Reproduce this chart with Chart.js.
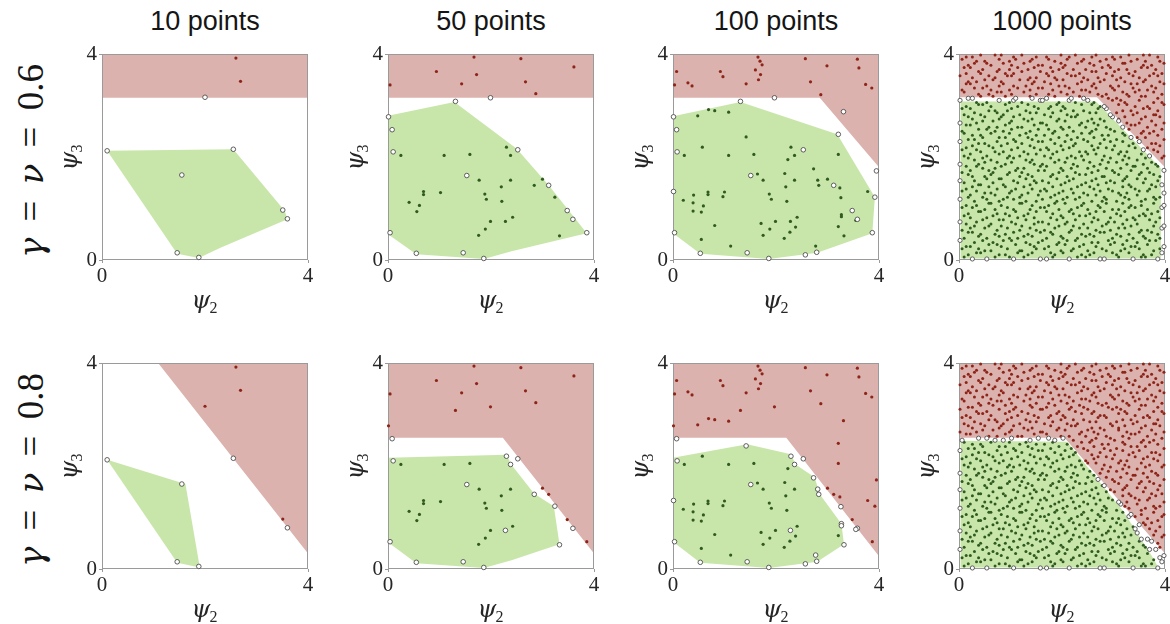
<!DOCTYPE html>
<html>
<head>
<meta charset="utf-8">
<script src="https://cdn.jsdelivr.net/npm/chart.js@4.4.1/dist/chart.umd.min.js"></script>
<style>
  html, body { margin: 0; padding: 0; background: #fff; }
  #fig { position: relative; width: 1170px; height: 624px; overflow: hidden; background: #fff; }
  #fig canvas { position: absolute; }
  .coltitle {
    position: absolute; transform: translateX(-50%);
    font-family: "Liberation Sans", Arial, sans-serif; font-size: 27px; line-height: 27px;
    color: #151515; white-space: nowrap;
  }
  .rowlabel {
    position: absolute; transform: translate(-50%, -50%) rotate(-90deg);
    font-family: "Liberation Serif", "DejaVu Serif", serif; font-size: 37px; line-height: 37px;
    word-spacing: 7px; color: #151515; white-space: nowrap;
  }
  .rowlabel i { font-family: "DejaVu Serif", serif; font-size: 34px; }
</style>
</head>
<body>
<div id="fig"></div>
<script>
// ---- labels -------------------------------------------------------------
const columnTitles = ['10 points', '50 points', '100 points', '1000 points'];
const rowValues = ['0.6', '0.8'];          // gamma = nu for each row
const tickValues = [0, 4];
const axisRange = [0, 4];
const axisNames = { x: ['ψ', '2'], y: ['ψ', '3'] };

// ---- 10 sampled points: [psi2, psi3, status row 1 + status row 2] ------
// r = infeasible, g = feasible, w = boundary sample
const sample10 = [
  [2.60,3.92,'rr'],[2.69,3.47,'rr'],[2.00,3.16,'wr'],[0.10,2.12,'ww'],[2.55,2.15,'ww'],
  [1.55,1.65,'ww'],[3.51,0.97,'wr'],[3.60,0.80,'ww'],[1.46,0.14,'ww'],[1.88,0.05,'ww']
];
const infeasible10 = [
  [[0,3.15],[4,3.15],[4,4],[0,4]],
  [[1.09,4],[4,4],[4,0.30]]
];
const feasible10 = [
  [[0.10,2.12],[2.55,2.15],[3.55,0.95],[3.60,0.79],[2.30,0.24],[1.88,0.04],[1.46,0.12]],
  [[0.10,2.12],[1.62,1.65],[1.90,0.03],[1.46,0.12]]
];

// ---- 50 sampled points ---------------------------------------------------
const sample50 = [
  [1.67,3.94,'rr'],[2.58,3.91,'rr'],[3.61,3.75,'rr'],[0.94,3.66,'rr'],[1.72,3.60,'rr'],
  [0.04,3.40,'rr'],[1.43,3.42,'rr'],[2.67,3.46,'rr'],[2.87,3.23,'rr'],
  [1.31,3.08,'wr'],[1.99,3.15,'wr'],[0.01,2.78,'wr'],[0.08,2.53,'ww'],[0.10,2.10,'ww'],
  [2.52,2.14,'ww'],[1.53,1.64,'ww'],[3.12,1.45,'wr'],[3.48,0.96,'wr'],[3.59,0.79,'ww'],
  [0.04,0.53,'ww'],[3.86,0.53,'wr'],[0.55,0.13,'ww'],[1.46,0.14,'ww'],[1.86,0.03,'ww'],
  [0.25,2.03,'gg'],[1.09,2.03,'gg'],[1.59,2.05,'gg'],[2.30,2.19,'gw'],[2.38,2.03,'gw'],
  [1.77,1.55,'gg'],[2.38,1.55,'gg'],[2.20,1.42,'gg'],[2.84,1.45,'gw'],[3.00,1.57,'gr'],
  [0.69,1.33,'gg'],[0.69,1.27,'gg'],[1.02,1.31,'gg'],[1.88,1.28,'gg'],[1.91,1.18,'gg'],
  [0.41,1.12,'gg'],[0.61,1.06,'gg'],[0.56,0.94,'gg'],[2.21,1.14,'gg'],[3.24,1.22,'gw'],
  [1.99,0.75,'gg'],[2.28,0.75,'gw'],[2.42,0.83,'gg'],[1.89,0.60,'gg'],[1.76,0.48,'gg'],
  [3.33,0.47,'gw']
];
const infeasible50 = [
  [[0,3.15],[4,3.15],[4,4],[0,4]],
  [[0,2.55],[2.23,2.55],[4,0.30],[4,4],[0,4]]
];
const feasible50 = [
  [[0,2.80],[1.29,3.07],[2.50,2.16],[3.12,1.45],[3.86,0.52],[2.40,0.17],[1.86,0.02],[0.55,0.11],[0,0.50]],
  [[0,2.16],[2.30,2.22],[2.40,2.02],[2.84,1.46],[3.22,1.22],[3.33,0.48],[2.40,0.17],[1.86,0.02],[0.55,0.11],[0,0.52]]
];

// ---- 100 sampled points --------------------------------------------------
const sample100 = [
  [1.65,3.94,'rr'],[1.69,3.86,'rr'],[1.73,3.79,'rr'],[1.60,3.69,'rr'],[1.70,3.60,'rr'],
  [1.66,3.50,'rr'],[1.42,3.42,'rr'],[0.07,3.66,'rr'],[0.03,3.40,'rr'],[0.29,3.44,'rr'],
  [0.37,3.38,'rr'],[0.92,3.66,'rr'],[0.97,3.56,'rr'],[2.57,3.91,'rr'],[2.99,3.77,'rr'],
  [3.58,3.90,'rr'],[3.61,3.73,'rr'],[2.67,3.46,'rr'],[2.87,3.21,'rr'],[3.74,3.41,'rr'],
  [3.86,3.34,'rr'],
  [1.31,3.08,'wr'],[1.97,3.15,'wr'],[3.31,2.88,'wr'],[0.01,2.78,'wr'],[0.07,2.53,'ww'],
  [0.08,2.10,'ww'],[2.53,2.14,'ww'],[3.21,2.44,'wr'],[1.51,1.64,'ww'],[3.12,1.45,'wr'],
  [3.95,1.73,'wr'],[0.01,1.33,'ww'],[3.92,1.22,'wr'],[3.48,0.96,'wr'],[3.58,0.79,'ww'],
  [0.03,0.53,'ww'],[3.87,0.53,'wr'],[0.53,0.13,'ww'],[1.44,0.14,'ww'],[1.86,0.03,'ww'],
  [2.57,0.10,'ww'],[2.79,0.15,'ww'],
  [0.48,2.80,'gr'],[0.69,2.92,'gr'],[0.81,2.90,'gr'],[1.08,2.87,'gr'],[1.42,2.39,'gw'],
  [0.57,2.19,'gg'],[0.22,2.03,'gg'],[1.08,2.03,'gg'],[1.57,2.05,'gg'],[2.29,2.19,'gw'],
  [2.36,2.03,'gw'],[2.23,1.95,'gg'],[3.21,2.05,'gr'],[1.64,1.67,'gg'],[1.75,1.55,'gg'],
  [2.17,1.68,'gg'],[2.19,1.42,'gg'],[2.36,1.55,'gg'],[2.73,1.77,'gw'],[2.81,1.55,'gw'],
  [2.83,1.45,'gw'],[3.00,1.57,'gr'],[3.24,1.40,'gr'],[3.78,1.33,'gr'],
  [0.68,1.32,'gg'],[0.68,1.27,'gg'],[1.00,1.32,'gg'],[0.97,1.23,'gg'],[0.40,1.26,'gg'],
  [0.39,1.11,'gg'],[0.20,1.16,'gg'],[0.59,1.05,'gg'],[0.39,0.95,'gg'],[0.55,0.93,'gg'],
  [1.87,1.28,'gg'],[1.91,1.18,'gg'],[2.21,1.14,'gg'],
  [3.26,1.21,'gw'],[3.27,0.88,'gw'],[3.27,0.84,'gw'],[3.55,0.77,'gw'],
  [1.71,0.71,'gg'],[1.99,0.75,'gg'],[2.28,0.75,'gw'],[2.41,0.83,'gg'],[1.88,0.60,'gg'],
  [2.38,0.64,'gg'],[0.81,0.67,'gg'],[1.75,0.48,'gg'],[2.27,0.54,'gg'],[2.16,0.42,'gg'],
  [3.32,0.47,'gw'],[3.21,0.65,'gg'],[0.55,0.40,'gg'],[1.12,0.27,'gg'],[2.77,0.27,'gw']
];
const infeasible100 = [
  [[0,3.15],[2.85,3.15],[4,1.80],[4,4],[0,4]],
  [[0,2.55],[2.20,2.55],[4,0.25],[4,4],[0,4]]
];
const feasible100 = [
  [[0,2.79],[1.31,3.07],[3.19,2.44],[3.92,1.22],[3.87,0.52],[2.80,0.14],[1.86,0.02],[0.53,0.12],[0,0.52]],
  [[0,2.16],[1.44,2.42],[2.29,2.23],[2.38,2.03],[2.75,1.78],[2.85,1.45],[3.27,0.88],[3.32,0.48],[2.80,0.14],[1.86,0.02],[0.53,0.12],[0,0.53]]
];

// ---- 1000 sampled points, "xxyy" grid codes (step 0.04 on [0, 4]) -------
const sample1000Codes = `
0201 0600 1300 1701 2401 2600 3101 3900 4200 4501 5300 5701 6101 6800 7000 7701 8400 8801 9001 9600
0402 0803 1003 1902 2202 2803 3302 3503 4403 4602 5003 5902 6302 6503 7403 7602 8203 8902 9302 9803
0105 0905 1204 1504 2305 2904 3004 3705 4105 4904 5404 5505 6204 6905 7104 7804 8005 8705 9404 9705
0306 0506 1407 1807 2006 2707 3407 3606 4306 4707 5107 5806 6007 6606 7307 7907 8306 8506 9107 9906
0009 0708 1109 1608 2109 2509 3208 3808 4009 4808 5209 5609 6408 6708 7209 7508 8109 8608 9209 9509
0210 0911 1310 1911 2410 2810 3111 3511 4210 4911 5010 5710 6111 6511 7410 7811 8410 8911 9010 9710
0413 0613 1012 1712 2212 2613 3312 3913 4413 4512 5313 5912 6312 6813 7013 7612 8212 8713 9313 9612
0114 0515 1215 1814 2315 2914 3415 3714 4114 4615 5414 5815 6215 6614 7314 7715 8015 8814 9114 9815
0317 0716 1416 1517 2016 2717 3016 3617 4317 4816 5117 5516 6017 6916 7117 7917 8316 8617 9416 9916
0018 0818 1119 1919 2119 2518 3219 3818 4018 4719 5218 5619 6418 6719 7218 7518 8119 8519 9219 9518
0221 0520 1320 1621 2421 2820 3121 3620 4420 4921 5020 5821 6121 6520 7320 7821 8420 8721 9021 9720
0422 0923 1023 1822 2222 2723 3322 3723 4223 4522 5323 5522 6322 6623 7023 7622 8023 8922 9322 9623
0125 0625 1224 1724 2325 2624 3424 3925 4125 4824 5424 5725 6224 6825 7424 7724 8225 8525 9124 9825
0326 0826 1427 1527 2026 2927 3027 3526 4326 4627 5127 5926 6027 6726 7127 7927 8326 8826 9427 9926
0029 0728 1329 1928 2129 2629 3228 3728 4029 4728 5029 5629 6428 6928 7129 7628 8229 8828 9029 9529
0430 0531 1130 1731 2330 2930 3031 3831 4430 4631 5230 5830 6231 6631 7030 7831 8030 8631 9430 9730
0133 0833 1232 1532 2432 2533 3332 3933 4233 4832 5033 5532 6032 6833 7433 7732 8132 8733 9133 9932
0334 0635 1435 1834 2235 2734 3135 3534 4134 4535 5434 5735 6335 6534 7234 7935 8335 8534 9234 9535
0237 0936 1036 1637 2136 2837 3436 3737 4337 4936 5137 5936 6137 6736 7137 7537 8236 8937 9336 9836
0038 0738 1339 1939 2039 2638 3239 3638 4038 4739 5338 5539 6438 6639 7338 7938 8039 8639 9039 9638
0441 0640 1240 1541 2341 2940 3341 3540 4440 4541 5240 5841 6141 6940 7040 7741 8140 8741 9441 9740
0142 0543 1443 1642 2442 2743 3042 3843 4143 4842 5043 5642 6442 6743 7443 7542 8343 8842 9242 9943
0345 0845 1144 1744 2045 2844 3144 3945 4245 4944 5444 5745 6244 6545 7144 7844 8445 8545 9144 9645
0046 0946 1247 1847 2246 2547 3447 3646 4046 4647 5147 5546 6347 6846 7247 7647 8146 8946 9347 9546
0449 0748 1149 1548 2349 2649 3248 3548 4449 4848 5249 5649 6048 6948 7349 7948 8249 8648 9049 9849
0250 0551 1350 1951 2450 2950 3351 3751 4150 4551 5450 5950 6251 6651 7050 7751 8050 8851 9250 9950
0153 0853 1052 1752 2152 2553 3152 3953 4353 4752 5053 5852 6152 6553 7453 7852 8152 8953 9453 9652
0354 0655 1455 1654 2055 2854 3455 3654 4254 4955 5354 5555 6455 6754 7154 7555 8255 8554 9154 9755
0057 0956 1256 1857 2356 2757 3056 3857 4057 4656 5157 5656 6257 6856 7357 7957 8456 8757 9356 9556
0458 0758 1159 1959 2259 2658 3359 3558 4458 4859 5458 5759 6058 6559 7058 7658 8359 8659 9059 9958
0261 0660 1060 1561 2461 2960 3261 3760 4160 4561 5260 5961 6361 6960 7260 7961 8060 8861 9261 9660
0162 0963 1363 1762 2162 2563 3462 3863 4363 4662 5063 5562 6462 6663 7363 7562 8263 8962 9462 9863
0365 0565 1464 1864 2265 2864 3064 3665 4265 4964 5364 5865 6164 6765 7164 7964 8365 8565 9164 9565
0066 0866 1167 1667 2466 2567 3367 3966 4066 4767 5167 5966 6267 6566 7067 7767 8166 8766 9367 9966
0469 0668 1269 1968 2069 2669 3168 3568 4469 4868 5469 5669 6468 6868 7469 7768 8069 8868 9069 9769
0270 0771 1070 1871 2170 2970 3471 3771 4170 4571 5270 5770 6371 6671 7370 7671 8470 8671 9470 9570
0173 0573 1472 1772 2372 2573 3272 3873 4373 4972 5173 5572 6072 6773 7173 7972 8372 8973 9273 9672
0374 0975 1175 1574 2275 2874 3375 3674 4474 4775 5074 5975 6475 6874 7074 7775 8175 8574 9174 9975
0077 0876 1376 1977 2476 2677 3076 3977 4077 4876 5377 5676 6277 6576 7477 7877 8076 8777 9476 9876
0478 0678 1079 1679 2279 2778 3479 3578 4278 4679 5478 5879 6078 6979 7278 7678 8279 8879 9079 9678
0281 0980 1480 1881 2081 2580 3181 3780 4380 4981 5280 5581 6381 6780 7180 7981 8180 8581 9481 9880
0182 0783 1183 1582 2482 2883 3482 3883 4083 4582 5383 5982 6182 6683 7483 7582 8483 8782 9182 9583
0385 0585 1384 1984 2185 2684 3284 3585 4485 4884 5184 5785 6484 6585 7384 7784 8385 8685 9384 9985
0486 0886 1287 1687 2086 2987 3387 3686 4186 4787 5087 5986 6287 6886 7087 7687 8086 8986 9087 9786
0089 0688 1489 1788 2389 2589 3488 3788 4389 4688 5489 5689 6088 6788 7489 7888 8489 8788 9289 9689
0390 0991 1090 1891 2290 2690 3091 3991 4290 4591 5290 5890 6491 6691 7190 7591 8290 8591 9490 9890
0293 0593 1192 1992 2492 2893 3392 3693 4493 4892 5093 5592 6192 6993 7393 7792 8192 8893 9193 9592
0494 0795 1395 1594 2195 2594 3195 3894 4094 4995 5194 5795 6395 6594 7294 7995 8095 8994 9394 9995
0197 0896 1296 1997 2496 2797 3496 3597 4397 4696 5297 5996 6097 6896 7197 7597 8396 8697 9096 9796
0398 0698 1099 1799 2099 2698 3099 3798 4298 4999 5398 5699 6498 6699 7498 7898 8299 8999 9299 9698
`;
const infeasible1000 = [
  [[0,3.16],[2.68,3.16],[4,1.80],[4,4],[0,4]],
  [[0,2.55],[2.05,2.55],[4,0.30],[4,4],[0,4]]
];
const feasible1000 = [
  [[0.03,0.03],[0.03,3.08],[2.66,3.08],[3.92,1.78],[3.92,0.03]],
  [[0.03,0.03],[0.03,2.49],[2.10,2.47],[3.19,1.12],[3.76,0.23],[3.87,0.03]]
];

// ---- style ---------------------------------------------------------------
const SERIF = '"Liberation Serif", "DejaVu Serif", serif';
const COLORS = {
  infeasibleFill: '#dbb2ad',
  feasibleFill: '#c9e6aa',
  infeasibleDot: '#8e2419',
  feasibleDot: '#2f5b21',
  sampleEdge: '#4e4e4e',
  frame: '#9a9a9a',
  text: '#262626'
};
const PANEL = 206;
const PANEL_LEFT = [102, 388, 673, 959];
const PANEL_TOP = [54, 363];
const PAD = { left: 64, top: 16, right: 8, bottom: 58 };

// ---- helpers -------------------------------------------------------------
function insidePolygon(pt, poly) {
  let inside = false;
  for (let i = 0, j = poly.length - 1; i < poly.length; j = i++) {
    const [xi, yi] = poly[i], [xj, yj] = poly[j];
    if ((yi > pt[1]) !== (yj > pt[1]) &&
        pt[0] < (xj - xi) * (pt[1] - yi) / (yj - yi) + xi) inside = !inside;
  }
  return inside;
}

function decodeSample(codes) {
  return codes.trim().split(/\s+/).map(c => [
    (parseInt(c.slice(0, 2), 10) + 0.5) * 0.04,
    (parseInt(c.slice(2, 4), 10) + 0.5) * 0.04
  ]);
}

// points of the dense sample take the class of the region they fall in
const sample1000 = decodeSample(sample1000Codes).map(p => {
  const s = [0, 1].map(r =>
    insidePolygon(p, infeasible1000[r]) ? 'r' :
    insidePolygon(p, feasible1000[r]) ? 'g' : 'w').join('');
  return [p[0], p[1], s];
});

const columns = [
  { points: sample10, infeasible: infeasible10, feasible: feasible10, dot: 1.6, ring: 2.3 },
  { points: sample50, infeasible: infeasible50, feasible: feasible50, dot: 1.6, ring: 2.3 },
  { points: sample100, infeasible: infeasible100, feasible: feasible100, dot: 1.6, ring: 2.3 },
  { points: sample1000, infeasible: infeasible1000, feasible: feasible1000, dot: 1.5, ring: 2.1 }
];

const asXY = arr => arr.map(p => ({ x: p[0], y: p[1] }));
const closed = poly => asXY(poly.concat([poly[0]]));

// frame drawn right after the region fills, below the markers
const framePlugin = {
  id: 'frame',
  afterDatasetDraw(chart, args) {
    if (args.index !== 3) return;
    const { ctx, chartArea: a } = chart;
    ctx.save();
    ctx.strokeStyle = COLORS.frame;
    ctx.lineWidth = 1;
    ctx.strokeRect(Math.round(a.left) + 0.5, Math.round(a.top) + 0.5,
                   Math.round(a.right - a.left) - 1, Math.round(a.bottom - a.top) - 1);
    ctx.restore();
  }
};

// psi with an upright subscript, centred on (x, y)
function drawSymbol(ctx, name, x, y, rotation) {
  ctx.save();
  ctx.translate(x, y);
  ctx.rotate(rotation);
  ctx.fillStyle = COLORS.text;
  ctx.textBaseline = 'alphabetic';
  ctx.textAlign = 'left';
  const mainFont = 'italic 24px "DejaVu Serif", serif';
  const subFont = '16px "Liberation Serif", serif';
  ctx.font = mainFont;
  const w1 = ctx.measureText(name[0]).width;
  ctx.font = subFont;
  const w2 = ctx.measureText(name[1]).width;
  const x0 = -(w1 + w2) / 2;
  ctx.font = mainFont;
  ctx.fillText(name[0], x0, 5);
  ctx.font = subFont;
  ctx.fillText(name[1], x0 + w1 - 1, 10);
  ctx.restore();
}

const axisNamePlugin = {
  id: 'axisNames',
  afterDraw(chart) {
    const { ctx, scales } = chart;
    const xs = scales.x, ys = scales.y;
    drawSymbol(ctx, axisNames.x, (xs.left + xs.right) / 2, xs.top + 43, 0);
    drawSymbol(ctx, axisNames.y, ys.right - 30, (ys.top + ys.bottom) / 2, -Math.PI / 2);
  }
};

function axisOptions(isX) {
  return {
    type: 'linear',
    min: axisRange[0],
    max: axisRange[1],
    afterBuildTicks: scale => { scale.ticks = tickValues.map(v => ({ value: v })); },
    afterFit: scale => { if (isX) scale.height = PAD.bottom; else scale.width = PAD.left; },
    grid: { display: true, drawOnChartArea: false, drawTicks: true, tickLength: 3, color: COLORS.frame },
    border: { display: false },
    ticks: {
      autoSkip: false, maxRotation: 0, padding: isX ? 1 : 2,
      color: COLORS.text, font: { family: SERIF, size: 21 }
    },
    title: { display: false }
  };
}

function drawPanel(fig, col, row) {
  const c = columns[col];
  const pick = s => asXY(c.points.filter(p => p[2][row] === s));
  const canvas = document.createElement('canvas');
  const w = PAD.left + PANEL + PAD.right, h = PAD.top + PANEL + PAD.bottom;
  canvas.width = w; canvas.height = h;
  canvas.style.left = (PANEL_LEFT[col] - PAD.left) + 'px';
  canvas.style.top = (PANEL_TOP[row] - PAD.top) + 'px';
  fig.appendChild(canvas);

  new Chart(canvas, {
    type: 'scatter',
    data: {
      datasets: [
        { label: 'boundary samples', data: pick('w'), order: 0, clip: false,
          pointRadius: c.ring, backgroundColor: '#ffffff', borderColor: COLORS.sampleEdge, borderWidth: 0.9 },
        { label: 'feasible samples', data: pick('g'), order: 1, clip: false,
          pointRadius: c.dot, backgroundColor: COLORS.feasibleDot, borderWidth: 0 },
        { label: 'infeasible samples', data: pick('r'), order: 1, clip: false,
          pointRadius: c.dot, backgroundColor: COLORS.infeasibleDot, borderWidth: 0 },
        { label: 'feasible region', data: closed(c.feasible[row]), order: 9,
          showLine: true, fill: 'shape', tension: 0, pointRadius: 0,
          backgroundColor: COLORS.feasibleFill, borderColor: 'rgba(0,0,0,0)', borderWidth: 0 },
        { label: 'infeasible region', data: closed(c.infeasible[row]), order: 9,
          showLine: true, fill: 'shape', tension: 0, pointRadius: 0,
          backgroundColor: COLORS.infeasibleFill, borderColor: 'rgba(0,0,0,0)', borderWidth: 0 }
      ]
    },
    options: {
      responsive: false,
      animation: false,
      devicePixelRatio: 1,
      events: [],
      layout: { padding: { left: 0, top: PAD.top, right: PAD.right, bottom: 0 } },
      plugins: { legend: { display: false }, tooltip: { enabled: false } },
      scales: { x: axisOptions(true), y: axisOptions(false) }
    },
    plugins: [framePlugin, axisNamePlugin]
  });
}

const fig = document.getElementById('fig');

columnTitles.forEach((t, c) => {
  const d = document.createElement('div');
  d.className = 'coltitle';
  d.textContent = t;
  d.style.left = (PANEL_LEFT[c] + PANEL / 2) + 'px';
  d.style.top = '8px';
  fig.appendChild(d);
});

rowValues.forEach((v, r) => {
  const d = document.createElement('div');
  d.className = 'rowlabel';
  const g = document.createElement('i'); g.textContent = 'γ';
  const n = document.createElement('i'); n.textContent = 'ν';
  d.append(g, ' = ', n, ' = ' + v);
  d.style.left = '31px';
  d.style.top = (PANEL_TOP[r] + PANEL / 2 + 4) + 'px';
  fig.appendChild(d);
});

for (let r = 0; r < 2; r++) for (let c = 0; c < 4; c++) drawPanel(fig, c, r);
</script>
</body>
</html>
